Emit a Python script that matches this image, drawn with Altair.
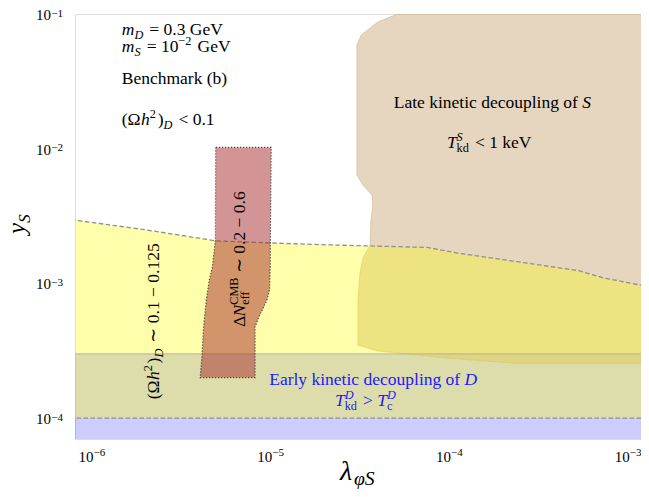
import altair as alt
import pandas as pd

# ---------------- data ----------------
X_DOMAIN = [8.05e-7, 1.18e-3]
Y_DOMAIN = [7.0e-5, 1.0e-1]

# relic-density band (yellow): upper dashed boundary, lower boundary
RELIC_X = [7.0e-7, 8.05e-7, 2.0e-6, 4.94e-6, 1.2e-5, 2.18e-5, 7.55e-5, 1.107e-4, 2.4e-4, 5.35e-4, 7.26e-4, 1.18e-3, 1.3e-3]
RELIC_Y = [3.05e-3, 2.95e-3, 2.5e-3, 2.07e-3, 1.98e-3, 1.93e-3, 1.85e-3, 1.68e-3, 1.45e-3, 1.24e-3, 1.10e-3, 9.7e-4, 9.4e-4]
RELIC_LOW = 1.0e-4

# early kinetic decoupling of D (blue band)
BLUE_LOW = 1.0e-5
BLUE_HIGH = 3.0e-4

# late kinetic decoupling of S (tan): left boundary as function of y
TAN_Y = [2.56e-4, 2.79e-4, 3.15e-4, 3.48e-4, 7.52e-4, 1.19e-3, 1.54e-3, 1.93e-3, 2.95e-3,
         3.82e-3, 4.53e-3, 5.37e-3, 6.37e-3, 5.89e-2, 6.98e-2, 8.73e-2, 1.0e-1]
TAN_XL = [2.30e-4, 9.75e-5, 3.98e-5, 3.08e-5, 3.08e-5, 3.16e-5, 3.29e-5, 3.60e-5, 3.64e-5,
          3.73e-5, 3.69e-5, 3.29e-5, 3.04e-5, 3.04e-5, 3.21e-5, 3.98e-5, 5.14e-5]
TAN_XR = 2.0e-3

# Delta N_eff region (brown): left / right boundary as function of y
NEFF_Y = [2.0e-4, 3.04e-4, 4.74e-4, 5.62e-4, 7.52e-4, 8.93e-4, 1.06e-3, 1.32e-3, 2.10e-3, 1.023e-2]
NEFF_XL = [4.04e-6, 4.14e-6, 4.22e-6, 4.27e-6, 4.37e-6, 4.45e-6, 4.54e-6, 4.72e-6, 4.91e-6, 4.93e-6]
NEFF_XR = [8.18e-6, 8.18e-6, 8.18e-6, 8.59e-6, 9.53e-6, 9.86e-6, 9.90e-6, 9.95e-6, 9.97e-6, 1.007e-5]

# axis ticks
X_MAJOR = [1e-6, 1e-5, 1e-4, 1e-3]
X_EXP = ["−6", "−5", "−4", "−3"]
X_MINOR = [9e-7, 2e-6, 3e-6, 4e-6, 5e-6, 6e-6, 7e-6, 8e-6, 9e-6,
           2e-5, 3e-5, 4e-5, 5e-5, 6e-5, 7e-5, 8e-5, 9e-5,
           2e-4, 3e-4, 4e-4, 5e-4, 6e-4, 7e-4, 8e-4, 9e-4]
Y_MAJOR = [1e-4, 1e-3, 1e-2, 1e-1]
Y_EXP = ["−4", "−3", "−2", "−1"]
Y_MINOR = [7e-5, 8e-5, 9e-5,
           2e-4, 3e-4, 4e-4, 5e-4, 6e-4, 7e-4, 8e-4, 9e-4,
           2e-3, 3e-3, 4e-3, 5e-3, 6e-3, 7e-3, 8e-3, 9e-3,
           2e-2, 3e-2, 4e-2, 5e-2, 6e-2, 7e-2, 8e-2, 9e-2]

# annotation anchors (data coordinates)
ANN = {
    "mD": (1.47e-6, 6.98e-2),
    "mS": (1.47e-6, 5.22e-2),
    "bench": (1.47e-6, 3.02e-2),
    "omega": (1.47e-6, 1.50e-2),
    "late": (1.74e-4, 2.00e-2),
    "tkdS": (1.67e-4, 1.01e-2),
    "relic": (2.39e-6, 1.38e-4),
    "neff": (7.19e-6, 4.74e-4),
    "early": (3.75e-5, 1.76e-4),
    "tkdD": (3.39e-5, 1.23e-4),
}

# ---------------- helpers ----------------
W, H = 566, 425
FONT = "Liberation Serif"
FS = 17.5
xs = alt.Scale(type="log", domain=X_DOMAIN, nice=False)
ys = alt.Scale(type="log", domain=Y_DOMAIN, nice=False)

TW = {' ': .25, '(': .333, ')': .333, '=': .564, '<': .564, '>': .564, '.': .25,
      '−': .564, '∼': .541, 'Ω': .768, 'Δ': .612, 'λ': .5, 'φ': .52}
for c in "0123456789":
    TW[c] = .5
TW.update(dict(A=.722, B=.667, C=.667, D=.722, E=.611, F=.556, G=.722, H=.722, I=.333,
               K=.722, L=.611, M=.889, N=.722, S=.556, T=.611, V=.722))
TW.update(dict(a=.444, b=.5, c=.444, d=.5, e=.444, f=.333, g=.5, h=.5, i=.278, k=.5,
               l=.278, m=.778, n=.5, o=.5, p=.5, r=.333, s=.389, t=.278, u=.5, v=.5, y=.5))
ITW = {'m': .722, 'S': .5, 'T': .556, 'N': .667, 'y': .444, 'k': .444}


def twidth(s, size, ital):
    return sum((ITW.get(c) if ital and c in ITW else TW.get(c, .5)) for c in s) * size


def rich(x, y, pieces, size=FS, align="left", angle=0, color="black", pixel=False, sub=0.22):
    pos = []
    cur = 0.0
    pend = 0.0
    for t, ital, kind in pieces:
        s = size * 0.7 if kind in ("sub", "sup", "sup0") else size
        w = twidth(t, s, ital)
        if kind in ("sub", "sup"):
            w += 0.1 * size
        dy = {"n": 0, "sub": sub * size, "sup": -0.42 * size, "sup0": -0.42 * size}[kind]
        lead = (len(t) - len(t.lstrip(" "))) * TW[' '] * s
        pos.append((t.strip(" "), ital, s, cur + lead, dy))
        if kind == "sup0":
            pend = w
        else:
            cur += max(w, pend)
            pend = 0.0
    off = -cur / 2 if align == "center" else 0.0
    df = pd.DataFrame({"x": [x], "y": [y]})
    out = []
    for t, ital, s, dx, dy in pos:
        m = alt.Chart(df).mark_text(text=t, align="left", baseline="alphabetic", font=FONT,
                                    fontSize=s, fontStyle="italic" if ital else "normal",
                                    color=color, angle=angle, dx=dx + off, dy=dy)
        if pixel:
            m = m.encode(x=alt.value(x), y=alt.value(y))
        else:
            m = m.encode(x=alt.X("x:Q", scale=xs, axis=None), y=alt.Y("y:Q", scale=ys, axis=None))
        out.append(m)
    return out


MAJ = "abs(log(datum.value)/LN10 - round(log(datum.value)/LN10)) < 0.001"
tick_size = {"condition": {"test": MAJ, "value": 5.5}, "value": 3}
x_axis = alt.Axis(values=X_MAJOR + X_MINOR, labels=False, title=None, grid=False,
                  tickSize=tick_size, tickColor="black", tickWidth=1,
                  domainColor="black", domainWidth=1)
y_axis = alt.Axis(values=Y_MAJOR + Y_MINOR, labels=False, title=None, grid=False,
                  tickSize=tick_size, tickColor="black", tickWidth=1,
                  domainColor="black", domainWidth=1)

# ---------------- layers ----------------
blue = alt.Chart(pd.DataFrame({"y": [BLUE_LOW], "y2": [BLUE_HIGH]})).mark_rect(
    color="#0000ff", opacity=0.2, clip=True).encode(
    x=alt.value(0), x2=alt.value(W),
    y=alt.Y("y:Q", scale=ys, axis=None), y2="y2:Q")
blue_edge = alt.Chart(pd.DataFrame({"y": [BLUE_HIGH]})).mark_rule(
    color="#a8a8b8", strokeWidth=1, opacity=0.8).encode(
    y=alt.Y("y:Q", scale=ys, axis=None))

tan_df = pd.DataFrame({"y": TAN_Y, "xl": TAN_XL, "xr": [TAN_XR] * len(TAN_Y)})
tan = alt.Chart(tan_df).mark_area(orient="horizontal", fill="#d2b48c", fillOpacity=0.55,
                                  stroke="#c8a878", strokeOpacity=0.5, strokeWidth=1,
                                  clip=True).encode(
    y=alt.Y("y:Q", scale=ys, axis=None),
    x=alt.X("xl:Q", scale=xs, axis=None), x2="xr:Q")

relic_df = pd.DataFrame({"x": RELIC_X, "y": RELIC_Y, "y2": [RELIC_LOW] * len(RELIC_X)})
yellow = alt.Chart(relic_df).mark_area(fill="#ffff00", fillOpacity=0.33, clip=True).encode(
    x=alt.X("x:Q", scale=xs, axis=x_axis),
    y=alt.Y("y:Q", scale=ys, axis=y_axis), y2="y2:Q")
relic_line = alt.Chart(relic_df).mark_line(color="#8f8f8f", strokeDash=[4.5, 2.5],
                                           strokeWidth=1.3, clip=True).encode(
    x=alt.X("x:Q", scale=xs, axis=None), y=alt.Y("y:Q", scale=ys, axis=None))
relic_low = alt.Chart(pd.DataFrame({"y": [RELIC_LOW]})).mark_rule(
    color="#8f8f8f", strokeDash=[4.5, 2.5], strokeWidth=1.3).encode(
    y=alt.Y("y:Q", scale=ys, axis=None))

neff_df = pd.DataFrame({"y": NEFF_Y, "xl": NEFF_XL, "xr": NEFF_XR})
neff = alt.Chart(neff_df).mark_area(orient="horizontal", fill="#a52a2a", fillOpacity=0.5,
                                    stroke="#444444", strokeDash=[1.2, 1.8], strokeWidth=1.2,
                                    clip=True).encode(
    y=alt.Y("y:Q", scale=ys, axis=None),
    x=alt.X("xl:Q", scale=xs, axis=None), x2="xr:Q")

# tick labels
xl_df = pd.DataFrame({"v": X_MAJOR, "e": X_EXP})
x_ten = alt.Chart(xl_df).mark_text(text="10", align="right", baseline="alphabetic", font=FONT,
                                   fontSize=15, dx=1.6, color="black").encode(
    x=alt.X("v:Q", scale=xs, axis=None), y=alt.value(H + 23))
x_exp = alt.Chart(xl_df).mark_text(align="left", baseline="alphabetic", font=FONT,
                                   fontSize=11, dx=1.6, dy=-6, color="black").encode(
    x=alt.X("v:Q", scale=xs, axis=None), y=alt.value(H + 23), text="e:N")
yl_df = pd.DataFrame({"v": Y_MAJOR, "e": Y_EXP})
y_ten = alt.Chart(yl_df).mark_text(text="10", align="right", baseline="alphabetic", font=FONT,
                                   fontSize=15, dy=6, color="black").encode(
    y=alt.Y("v:Q", scale=ys, axis=None), x=alt.value(-24))
y_exp = alt.Chart(yl_df).mark_text(align="right", baseline="alphabetic", font=FONT,
                                   fontSize=11, dy=2.5, color="black").encode(
    y=alt.Y("v:Q", scale=ys, axis=None), x=alt.value(-12), text="e:N")

N, I = False, True
BLUE_TXT = "#1a1aff"
texts = []
texts += rich(*ANN["mD"], [("m", I, "n"), ("D", I, "sub"), (" = 0.3 GeV", N, "n")])
texts += rich(*ANN["mS"], [("m", I, "n"), ("S", I, "sub"), (" = 10", N, "n"), ("−2", N, "sup"), (" GeV", N, "n")])
texts += rich(*ANN["bench"], [("Benchmark (b)", N, "n")])
texts += rich(*ANN["omega"], [("(Ω", N, "n"), ("h", I, "n"), ("2", N, "sup"), (")", N, "n"),
                              ("D", I, "sub"), (" < 0.1", N, "n")])
texts += rich(*ANN["late"], [("Late kinetic decoupling of ", N, "n"), ("S", I, "n")], align="center")
texts += rich(*ANN["tkdS"], [("T", I, "n"), ("S", I, "sup0"), ("kd", N, "sub"), (" < 1 keV", N, "n")],
              align="center")
texts += rich(*ANN["relic"], [("(Ω", N, "n"), ("h", I, "n"), ("2", N, "sup"), (")", N, "n"),
                              ("D", I, "sub"), (" ∼ 0.1 − 0.125", N, "n")], angle=270)
texts += rich(*ANN["neff"], [("Δ", N, "n"), ("N", I, "n"), ("CMB", N, "sup0"), ("eff", N, "sub"),
                             (" ∼ 0.2 − 0.6", N, "n")], angle=270)
texts += rich(*ANN["early"], [("Early kinetic decoupling of ", N, "n"), ("D", I, "n")],
              align="center", color=BLUE_TXT)
texts += rich(*ANN["tkdD"], [("T", I, "n"), ("D", I, "sup0"), ("kd", N, "sub"), (" > ", N, "n"),
                             ("T", I, "n"), ("D", I, "sup0"), ("c", N, "sub")],
              align="center", color=BLUE_TXT)
# axis titles
texts += rich(-50, 220, [("y", I, "n"), ("S", I, "sub")], size=25, angle=270, pixel=True, sub=0.2)
texts += rich(265, 466, [("λ", I, "n"), ("φS", I, "sub")], size=28, pixel=True, sub=0.17)

layers = [blue, tan, yellow, blue_edge, relic_line, relic_low, neff,
          x_ten, x_exp, y_ten, y_exp] + texts

chart = alt.layer(*layers).properties(
    width=W, height=H, autosize="none",
    padding={"left": 67, "top": 6, "right": 0, "bottom": 50},
).configure_view(stroke="black", strokeWidth=1).configure(background="white")

chart.save("out.html", embed_options={"renderer": "svg", "actions": False})
